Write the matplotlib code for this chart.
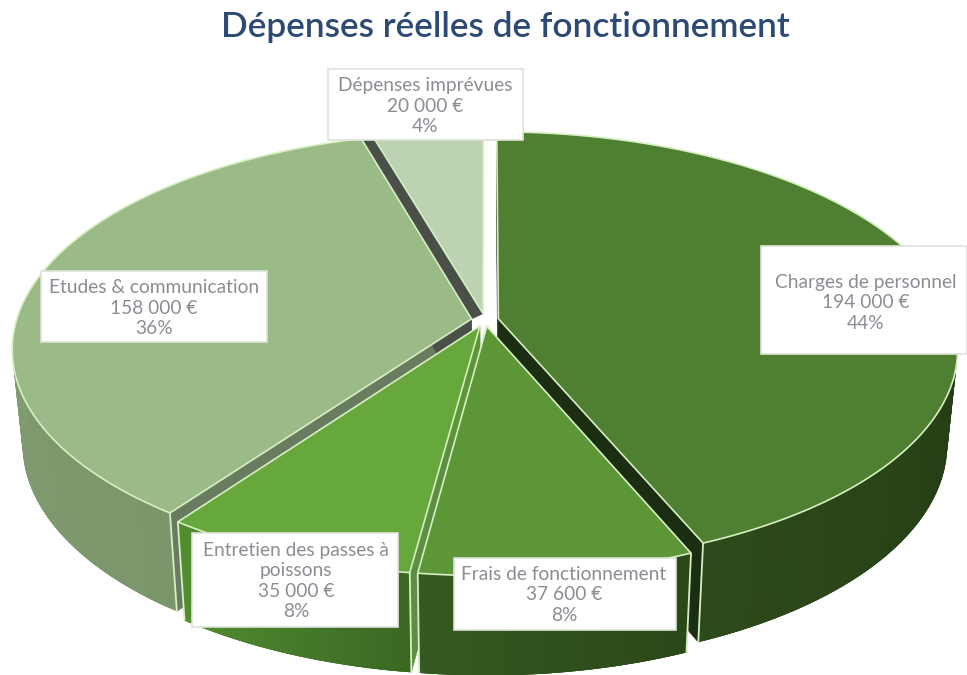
import numpy as np
import matplotlib
matplotlib.use("Agg")
import matplotlib.pyplot as plt
from matplotlib.colors import to_rgb
from matplotlib.patches import Polygon, Rectangle

# --- data, clockwise from 12 o'clock
categories = ["Charges de personnel", "Frais de fonctionnement",
              "Entretien des passes à\npoissons", "Etudes & communication",
              "Dépenses imprévues"]
values = [194000, 37600, 35000, 158000, 20000]
title = "Dépenses réelles de fonctionnement"

# --- styles
top_colors = ["#4f7f30", "#5c9636", "#66a83c", "#9abb87", "#bdd2b1"]
side_start = ["#16270c", "#2a4818", "#3a6823", "#7c966c", "#8aa47a"]
side_end = ["#2d4a1a", "#345a20", "#528e30", "#8aa47a", "#8aa47a"]
wall_start = ["#1c2e12", "#3d6e26", "#5d8f42", "#6a7c60", "#9ab08c"]
wall_end = ["#1c2e12", "#2e5019", "#5c9636", "#4a5048", "#9ab08c"]
has_sides = [True, True, True, True, False]
gap_fill = [None, None, None, "#4a5048", None]
line_color = "#d8efc4"
boxes = [(761, 246, 967, 354), (454, 558, 676, 630), (192, 533, 398, 627),
         (41, 271, 267, 342), (328, 69, 523, 140)]
text_centers = [(866, 303), (564, 595), (296, 581), (154, 308), (425, 106)]
draw_order = [3, 4, 0, 2, 1]

# --- projection of the 3D pie
CX, CY, RX, RY, K = 485.0, 320.0, 455.0, 213.0, 0.138
EXPLODE = 0.03
VY, F = -3960.0, 0.978


def project(X, Y):
    w = 1 + K * Y
    return CX + RX * X / w, CY - RY * Y / w


def drop(x, y):
    return CX + (x - CX) * F, VY + (y - VY) * (2 - F)


def offset(a0, a1):
    mid = (a0 + a1) / 2
    return EXPLODE * np.sin(mid), EXPLODE * np.cos(mid)


fig = plt.figure(figsize=(9.67, 6.75), dpi=100)
ax = fig.add_axes([0, 0, 1, 1])
ax.set_xlim(0, 967)
ax.set_ylim(675, 0)
ax.axis("off")

total = sum(values)
edges = np.concatenate([[0], np.cumsum(values)]) / total * 2 * np.pi
plt.rcParams["font.family"] = ["Lato", "DejaVu Sans"]

for i in draw_order:
    a0, a1 = edges[i], edges[i + 1]
    ox, oy = offset(a0, a1)
    t = np.linspace(a0, a1, 160)
    rx, ry = project(ox + np.sin(t), oy + np.cos(t))
    ax0, ay0 = project(ox, oy)
    bx, by = drop(rx, ry)
    bax, bay = drop(ax0, ay0)

    if gap_fill[i]:
        # the wall seen in the gap towards the next slice
        nx, ny = offset(edges[i + 1], edges[i + 2])
        p0 = project(nx, ny)
        p1 = project(nx + np.sin(a1), ny + np.cos(a1))
        ax.add_patch(Polygon([(ax0, ay0), (rx[-1], ry[-1]), p1, p0],
                             fc=gap_fill[i], ec=gap_fill[i], lw=0.4, zorder=1))
    if has_sides[i]:
        # radial walls
        ax.add_patch(Polygon([(ax0, ay0), (rx[0], ry[0]), (bx[0], by[0]), (bax, bay)],
                             fc=wall_start[i], ec=wall_start[i], lw=0.4, zorder=1))
        ax.add_patch(Polygon([(ax0, ay0), (rx[-1], ry[-1]), (bx[-1], by[-1]), (bax, bay)],
                             fc=wall_end[i], ec=wall_end[i], lw=0.4, zorder=1))
        # outer wall facets, overlapping to avoid seams
        c0, c1 = np.array(to_rgb(side_start[i])), np.array(to_rgb(side_end[i]))
        n = len(t)
        for j in range(n - 1):
            e = min(j + 3, n - 1)
            c = c0 + (c1 - c0) * j / (n - 2)
            ax.add_patch(Polygon(np.column_stack([np.r_[rx[j:e + 1], bx[j:e + 1][::-1]],
                                                  np.r_[ry[j:e + 1], by[j:e + 1][::-1]]]),
                                 fc=c, ec="none", lw=0, zorder=1))
        # vertical edges at the rim
        for k in (0, -1):
            if ry[k] > 330:
                ax.plot([rx[k], bx[k]], [ry[k], by[k]], color=line_color, lw=1.3,
                        zorder=1, solid_capstyle="butt")
    # top face
    ax.add_patch(Polygon(np.column_stack([np.r_[ax0, rx], np.r_[ay0, ry]]),
                         fc=top_colors[i], ec=line_color, lw=1.2, zorder=1,
                         joinstyle="round"))

# labels
for name, v, box, c in zip(categories, values, boxes, text_centers):
    x0, y0, x1, y1 = box
    ax.add_patch(Rectangle((x0, y0), x1 - x0, y1 - y0, fc="white", ec="#dfe3da",
                           lw=1.2, zorder=3))
    val = f"{v:,}".replace(",", " ") + " €"
    pct = f"{v / total * 100:.0f}%"
    ax.text(c[0], c[1], f"{name}\n{val}\n{pct}", ha="center", va="center",
            fontsize=13.8, color="#8c8c94", linespacing=1.22, zorder=4,
            fontweight="normal")

ax.text(505, 27, title, ha="center", va="center", fontsize=25.4,
        fontweight="semibold", color="#2c4a73", zorder=4)

fig.savefig("out.png", dpi=100, facecolor="white")
